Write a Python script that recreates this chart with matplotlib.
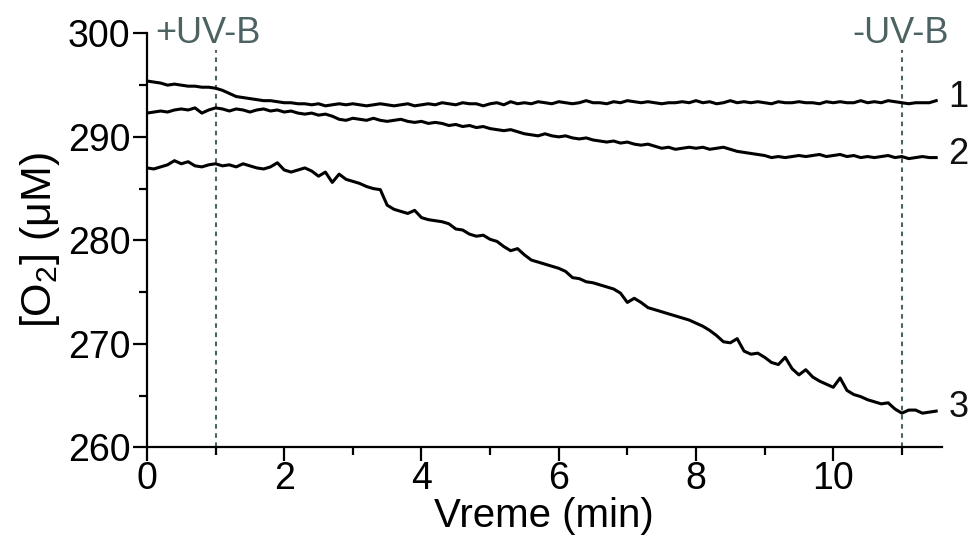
import numpy as np
import matplotlib
matplotlib.use("Agg")
import matplotlib.pyplot as plt
from matplotlib.ticker import MultipleLocator

plt.rcParams['font.family'] = ['Liberation Sans', 'DejaVu Sans']
plt.rcParams['mathtext.fontset'] = 'custom'
plt.rcParams['mathtext.rm'] = 'Liberation Sans'

# time axis (min), one reading every 0.1 min
time_min = np.round(np.arange(0, 116) * 0.1, 2)

series1 = [
    295.4, 295.3, 295.2, 295.0, 295.1, 295.0, 294.9, 294.9, 294.8, 294.8,
    294.7, 294.5, 294.2, 293.9, 293.8, 293.7, 293.6, 293.5, 293.5, 293.4,
    293.3, 293.3, 293.2, 293.2, 293.1, 293.2, 293.0, 293.1, 293.2, 293.1,
    293.2, 293.1, 293.0, 293.1, 293.2, 293.1, 293.0, 293.1, 293.2, 293.0,
    293.1, 293.2, 293.1, 293.3, 293.2, 293.1, 293.3, 293.2, 293.2, 293.0,
    293.2, 293.3, 293.1, 293.4, 293.2, 293.3, 293.2, 293.4, 293.3, 293.2,
    293.4, 293.3, 293.2, 293.3, 293.5, 293.3, 293.3, 293.2, 293.4, 293.3,
    293.5, 293.4, 293.3, 293.4, 293.3, 293.2, 293.3, 293.3, 293.4, 293.3,
    293.5, 293.3, 293.4, 293.2, 293.3, 293.5, 293.3, 293.4, 293.3, 293.4,
    293.3, 293.2, 293.4, 293.3, 293.3, 293.4, 293.3, 293.3, 293.2, 293.4,
    293.3, 293.4, 293.3, 293.3, 293.5, 293.3, 293.4, 293.3, 293.5, 293.4,
    293.3, 293.2, 293.3, 293.3, 293.3, 293.5,
]

series2 = [
    292.3, 292.4, 292.5, 292.4, 292.6, 292.7, 292.6, 292.8, 292.3, 292.6,
    292.8, 292.7, 292.5, 292.7, 292.6, 292.4, 292.6, 292.7, 292.5, 292.6,
    292.4, 292.5, 292.3, 292.2, 292.3, 292.1, 292.2, 292.0, 291.7, 291.6,
    291.8, 291.7, 291.6, 291.8, 291.6, 291.5, 291.6, 291.7, 291.5, 291.4,
    291.5, 291.3, 291.4, 291.3, 291.1, 291.2, 291.0, 291.1, 290.9, 291.0,
    290.8, 290.7, 290.6, 290.7, 290.5, 290.3, 290.2, 290.1, 290.3, 290.1,
    290.0, 290.1, 289.9, 289.8, 289.9, 289.7, 289.6, 289.5, 289.6, 289.4,
    289.5, 289.3, 289.2, 289.3, 289.1, 288.9, 289.0, 288.8, 288.9, 289.0,
    288.9, 289.0, 288.8, 288.9, 289.0, 288.8, 288.6, 288.5, 288.4, 288.3,
    288.2, 288.0, 288.1, 288.0, 288.1, 288.2, 288.1, 288.2, 288.3, 288.1,
    288.2, 288.3, 288.1, 288.2, 288.0, 288.1, 288.0, 288.1, 288.2, 288.0,
    288.1, 287.9, 288.0, 288.1, 288.0, 288.0,
]

series3 = [
    287.0, 286.9, 287.1, 287.3, 287.7, 287.4, 287.6, 287.2, 287.1, 287.3,
    287.4, 287.2, 287.3, 287.1, 287.4, 287.2, 287.0, 286.9, 287.1, 287.5,
    286.8, 286.6, 286.8, 287.0, 286.7, 286.2, 286.6, 285.6, 286.4, 285.9,
    285.7, 285.5, 285.2, 285.0, 284.9, 283.4, 283.0, 282.8, 282.6, 282.9,
    282.2, 282.0, 281.9, 281.8, 281.6, 281.1, 281.0, 280.6, 280.4, 280.5,
    280.1, 279.9, 279.4, 279.0, 279.2, 278.6, 278.1, 277.9, 277.7, 277.5,
    277.3, 277.0, 276.4, 276.3, 276.0, 275.9, 275.7, 275.5, 275.3, 274.9,
    274.0, 274.4, 274.0, 273.5, 273.3, 273.1, 272.9, 272.7, 272.5, 272.3,
    272.0, 271.7, 271.3, 270.8, 270.2, 270.1, 270.5, 269.3, 269.0, 269.1,
    268.7, 268.2, 268.0, 268.7, 267.6, 267.0, 267.5, 266.8, 266.4, 266.1,
    265.8, 266.7, 265.5, 265.1, 264.9, 264.6, 264.4, 264.2, 264.3, 263.7,
    263.3, 263.6, 263.6, 263.3, 263.4, 263.5,
]

series_labels = ['1', '2', '3']
uv_times = [1.0, 11.0]
uv_texts = ['+UV-B', '-UV-B']
x_ticks = [0, 2, 4, 6, 8, 10]
y_ticks = [260, 270, 280, 290, 300]

fig = plt.figure(figsize=(9.72, 5.37), dpi=100)
ax = fig.add_axes([0.1512, 0.167, 0.8176, 0.7708])

grey = '#4d6262'
for t in uv_times:
    ax.axvline(t, ymin=0, ymax=0.96, color=grey, lw=1.5, ls=(0, (2.2, 2.2)), zorder=1)

for s in (series1, series2, series3):
    ax.plot(time_min, s, color='black', lw=2.2, zorder=3)

for s, lab in zip((series1, series2, series3), series_labels):
    ax.text(11.68, s[-1] + 0.3, lab, fontsize=26, va='center', ha='left',
            clip_on=False, color='#111111')

ax.text(0.12, 299.1, uv_texts[0], fontsize=26, color=grey, ha='left', va='baseline',
        clip_on=False)
ax.text(11.68, 299.1, uv_texts[1], fontsize=26, color=grey, ha='right', va='baseline',
        clip_on=False)

ax.set_xlim(0, 11.58)
ax.set_ylim(260, 300)
ax.set_xticks(x_ticks)
ax.set_yticks(y_ticks)
ax.xaxis.set_minor_locator(MultipleLocator(1))
ax.yaxis.set_minor_locator(MultipleLocator(5))
ax.tick_params(which='major', length=10, width=1.6, labelsize=27, pad=2, color='black')
ax.tick_params(axis='x', which='major', pad=0)
ax.tick_params(which='minor', length=6, width=1.6, color='black')
for side in ('top', 'right'):
    ax.spines[side].set_visible(False)
for side in ('left', 'bottom'):
    ax.spines[side].set_linewidth(1.6)

ax.set_xlabel('Vreme (min)', fontsize=29, labelpad=0)
ax.set_ylabel(r'[O$_\mathregular{2}$] ($\mathregular{\mu}$M)', fontsize=31, labelpad=4)

fig.savefig('out.png', dpi=100)
